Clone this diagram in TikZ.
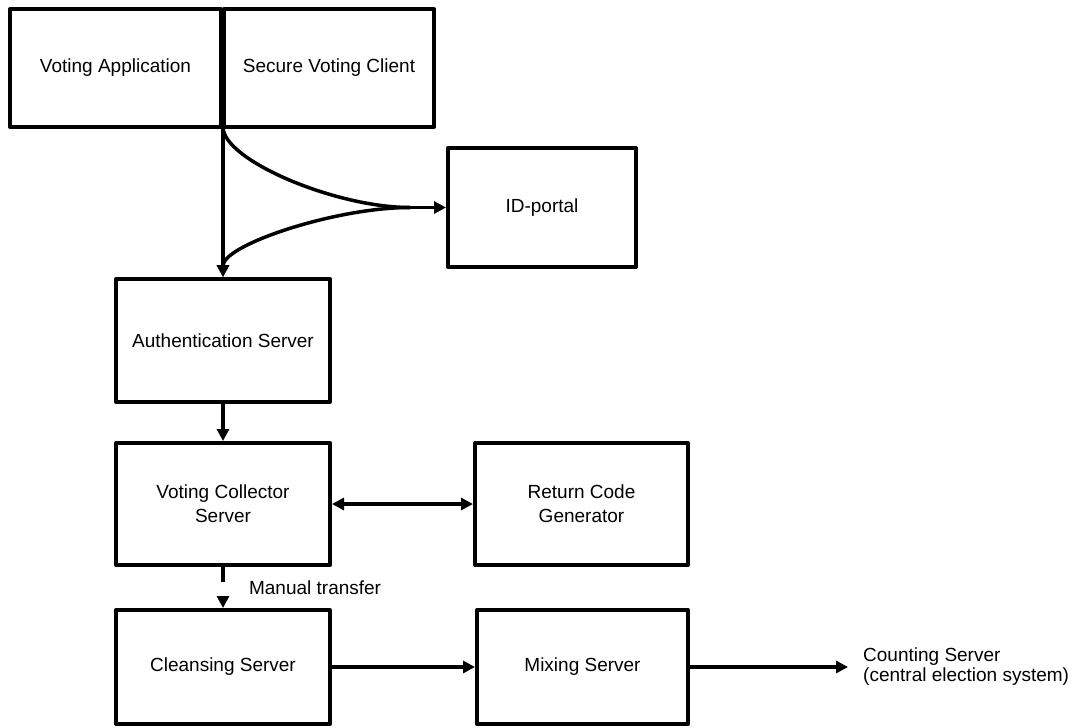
\documentclass[tikz,border=0pt]{standalone}
\usepackage{fontspec}
\setmainfont{Liberation Sans}
\usetikzlibrary{shapes.geometric, arrows, arrows.meta, positioning}

\begin{document}
\begin{tikzpicture}[x=1pt, y=-1pt]
		\tikzstyle{Box} = [rectangle, draw=black, line width=4pt, line join=round, align=center, font=\fontsize{19}{24}\selectfont]
		\tikzstyle{arrow} = [line width=3.5pt, -{Triangle[length=12pt,width=12pt]}]
		
		\useasboundingbox (0,0) rectangle (1076,728);
		
		\node (va) [Box, minimum width=211, minimum height=118] at (115.5,68) {Voting Application};
		\node (svc) [Box, minimum width=210, minimum height=118] at (329,68) {Secure Voting Client};
		\node (idp) [Box, minimum width=188, minimum height=119] at (542,207.5) {ID-portal};
		\node (auth) [Box, minimum width=214, minimum height=123] at (223,340.5) {Authentication Server};
		
		\node (vcs) [Box, minimum width=214, minimum height=122] at (223,504) {Voting Collector\\Server};
		\node (rcg) [Box, minimum width=213, minimum height=122] at (581.5,504) {Return Code\\Generator};
		
		\node (cls) [Box, minimum width=214, minimum height=114] at (223,667) {Cleansing Server};
		\node (mix) [Box, minimum width=211, minimum height=114] at (582.5,667) {Mixing Server};
		\node (count) [anchor=west, align=left, inner xsep=15pt, font=\fontsize{19}{20}\selectfont] at (848,667) {Counting Server\\(central election system)};
		
		\coordinate (split) at (223,127);
		\coordinate (join) at (410,207.5);
		
		\draw [arrow] (split) -- (auth.north);
		\draw [line width=3.5pt] (split) .. controls (223,160) and (335,207.5) .. (join);
		\draw [arrow] (join) -- (idp.west);
		\draw [arrow] (join) .. controls (335,207.5) and (223,245) .. (auth.north);
		
		\draw [arrow] (auth.south) -- (vcs.north);
		\draw [line width=3.5pt, {Triangle[length=12pt,width=12pt]}-{Triangle[length=12pt,width=12pt]}] (vcs.east) -- (rcg.west);
		\draw [arrow, dash pattern=on 15pt off 30pt] (vcs.south) -- node (mt) [right=21pt, font=\fontsize{19}{24}\selectfont] {Manual transfer} (cls.north);
		
		\draw [arrow] (cls.east) -- (mix.west);
		\draw [arrow] (mix.east) -- (count.west);
\end{tikzpicture}
\end{document}
